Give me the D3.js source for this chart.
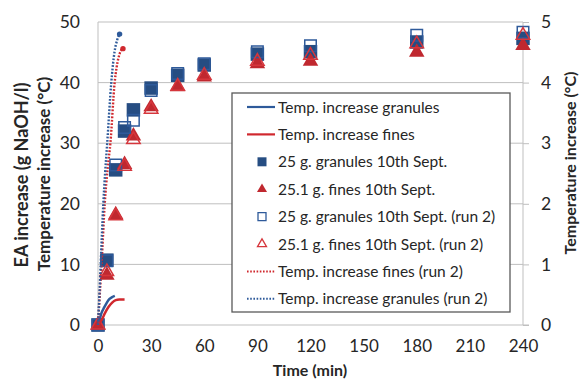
<!DOCTYPE html>
<html><head><meta charset="utf-8">
<script src="https://cdn.jsdelivr.net/npm/d3@7"></script>
<style>body{margin:0;background:#fff}svg{display:block}text{font-family:Lato,"Open Sans",sans-serif;fill:#262626}</style>
</head><body><svg id="c" width="582" height="380"></svg>
<script>
// sampling times (min)
const times = [0, 5, 10, 15, 20, 30, 45, 60, 90, 120, 180, 240];
// EA increase (g NaOH/l)
const granules1 = [0, 10.7, 25.6, 32.0, 35.5, 39.1, 41.2, 42.9, 44.7, 45.1, 46.7, 47.3];
const fines1    = [0, 8.2, 18.2, 26.5, 31.2, 36.0, 39.3, 40.9, 43.1, 43.5, 45.0, 46.1];
const granules2 = [0, 10.6, 26.4, 32.6, 33.8, 38.7, 41.5, 43.1, 45.1, 46.1, 47.8, 48.3];
const fines2    = [0, 8.8, 18.0, 26.2, 30.6, 35.6, 39.4, 41.2, 43.5, 44.5, 46.4, 47.8];
// temperature increase (°C) curves: [time, value]
const tempGranules  = [[0,0],[1,0.1],[2,0.2],[3.5,0.29],[5,0.37],[6.5,0.43],[8,0.46],[9.5,0.48]];
const tempFines     = [[0,0],[2,0.08],[4,0.2],[6,0.3],[8,0.37],[10,0.41],[12,0.42],[15,0.42]];
const tempFines2    = [[0,0],[1,0.5],[2,1.0],[3.8,2.0],[5.5,2.6],[7,3.0],[9.4,4.0],[10.5,4.25],[11.5,4.4],[12.8,4.52],[14.1,4.56]];
const tempGranules2 = [[0,0],[0.8,0.5],[1.5,1.0],[3,2.0],[4,2.5],[5.2,3.0],[7.5,4.0],[9.3,4.5],[10.8,4.7],[12.2,4.8]];
const xTicks = [0, 30, 60, 90, 120, 150, 180, 210, 240];
const yTicks = [0, 10, 20, 30, 40, 50];
const y2Ticks = [0, 1, 2, 3, 4, 5];
const legendNames = ["Temp. increase granules","Temp. increase fines","25 g. granules 10th Sept.","25.1 g. fines 10th Sept.","25 g. granules 10th Sept. (run 2)","25.1 g. fines 10th Sept. (run 2)","Temp. increase fines (run 2)","Temp. increase granules (run 2)"];

const BLUE = "#264d82", RED = "#c0282f", LBLUE = "#2e5a9a";
const svg = d3.select("#c");
const x = d3.scaleLinear([0,240],[98,523]);
const y = d3.scaleLinear([0,50],[325,22]);
const y2 = d3.scaleLinear([0,5],[325,22]);

// gridlines
svg.append("g").selectAll("line").data(yTicks.slice(1)).join("line")
  .attr("x1",x(0)).attr("x2",x(240)).attr("y1",d=>y(d)).attr("y2",d=>y(d))
  .attr("stroke","#bfbfbf").attr("stroke-width",1);
// frame lines
svg.append("line").attr("x1",x(0)).attr("x2",x(0)).attr("y1",y(50)).attr("y2",y(0)).attr("stroke","#bfbfbf");
svg.append("line").attr("x1",x(0)).attr("x2",x(240)+6).attr("y1",y(0)).attr("y2",y(0)).attr("stroke","#bfbfbf");

// axes
const ax = svg.append("g").attr("transform",`translate(0,${y(0)})`)
  .call(d3.axisBottom(x).tickValues(xTicks).tickSize(0).tickPadding(15));
const ay = svg.append("g").attr("transform",`translate(${x(0)},0)`)
  .call(d3.axisLeft(y).tickValues(yTicks).tickSize(0).tickPadding(18));
const ay2 = svg.append("g").attr("transform",`translate(${x(240)},0)`)
  .call(d3.axisRight(y2).tickValues(y2Ticks).tickSize(6).tickPadding(12).tickFormat(d3.format("d")));
[ax,ay,ay2].forEach(g=>{g.select(".domain").remove();g.selectAll("text").style("font-size","17.5px").attr("fill","#262626");g.selectAll(".tick line").attr("stroke","#bfbfbf");});
ax.selectAll("text").style("font-size","17px");
ay2.append("line").attr("x1",0).attr("x2",0).attr("y1",y2(0)).attr("y2",y2(5)).attr("stroke","#bfbfbf");

// titles
svg.append("text").attr("x",310).attr("y",376).attr("text-anchor","middle").style("font-size","16px").style("font-weight","bold").text("Time (min)");
svg.append("text").attr("transform","translate(28,175) rotate(-90)").attr("text-anchor","middle").style("font-size","18px").style("font-weight","bold").text("EA increase (g NaOH/l)");
svg.append("text").attr("transform","translate(50,174) rotate(-90)").attr("text-anchor","middle").style("font-size","17px").style("font-weight","bold").text("Temperature increase (°C)");
svg.append("text").attr("transform","translate(576,163) rotate(-90)").attr("text-anchor","middle").style("font-size","16px").style("font-weight","bold").text("Temperature increase (°C)");

const plot = svg.append("g");
const sq = (s)=>d3.symbol(d3.symbolSquare, s*s)();
const tri = (s)=>d3.symbol(d3.symbolTriangle, Math.sqrt(3)/4*s*s)();

function scatter(vals, shape, filled, color){
  plot.append("g").selectAll("path").data(times.map((t,i)=>[t,vals[i]])).join("path")
    .attr("d", shape==="sq" ? (filled?sq(13.5):sq(11.5)) : (filled?tri(15.5):tri(13.5)))
    .attr("transform",d=>`translate(${x(d[0])},${y(d[1])})`)
    .attr("fill", filled?color:"none").attr("stroke", filled?"none":color).attr("stroke-width",1.5);
}
scatter(granules1,"sq",true,BLUE);
scatter(fines1,"tri",true,RED);
scatter(granules2,"sq",false,LBLUE);
scatter(fines2,"tri",false,"#d6363c");

const line = d3.line().x(d=>x(d[0])).y(d=>y2(d[1])).curve(d3.curveMonotoneX);
function tline(data,color,dotted){
  plot.append("path").attr("d",line(data)).attr("fill","none").attr("stroke",color)
    .attr("stroke-width", dotted?2.4:2.5).attr("stroke-dasharray", dotted?"1.8,1.6":null);
  if(dotted){ const e=data[data.length-1];
    plot.append("circle").attr("cx",x(e[0])).attr("cy",y2(e[1])).attr("r",2.7).attr("fill",color);}
}
tline(tempGranules,LBLUE,false);
tline(tempFines,"#d0282e",false);
tline(tempFines2,"#d0282e",true);
tline(tempGranules2,LBLUE,true);

// legend
const lg = svg.append("g");
lg.append("rect").attr("x",232).attr("y",93).attr("width",278).attr("height",219).attr("fill","#fff").attr("stroke","#595959").attr("stroke-width",1.3);
const styles = [
  {t:"line",c:LBLUE},{t:"line",c:"#d0282e"},{t:"sq",f:true,c:BLUE},{t:"tri",f:true,c:RED},
  {t:"sq",f:false,c:LBLUE},{t:"tri",f:false,c:"#d6363c"},{t:"dot",c:"#d0282e"},{t:"dot",c:LBLUE}];
legendNames.forEach((n,i)=>{
  const yy = 107 + i*27.4, s = styles[i];
  if(s.t==="line"||s.t==="dot"){
    lg.append("line").attr("x1",247).attr("x2",275).attr("y1",yy).attr("y2",yy).attr("stroke",s.c)
      .attr("stroke-width", s.t==="dot"?2:2.2).attr("stroke-dasharray", s.t==="dot"?"1.6,1.6":null);
  } else {
    lg.append("path").attr("d", s.t==="sq" ? (s.f?sq(9):sq(8)) : (s.f?tri(10):tri(9)))
      .attr("transform",`translate(262,${yy})`).attr("fill", s.f?s.c:"none").attr("stroke", s.f?"none":s.c).attr("stroke-width",1.3);
  }
  lg.append("text").attr("x",278).attr("y",yy+5.5).style("font-size","15.5px").text(n);
});
</script></body></html>
